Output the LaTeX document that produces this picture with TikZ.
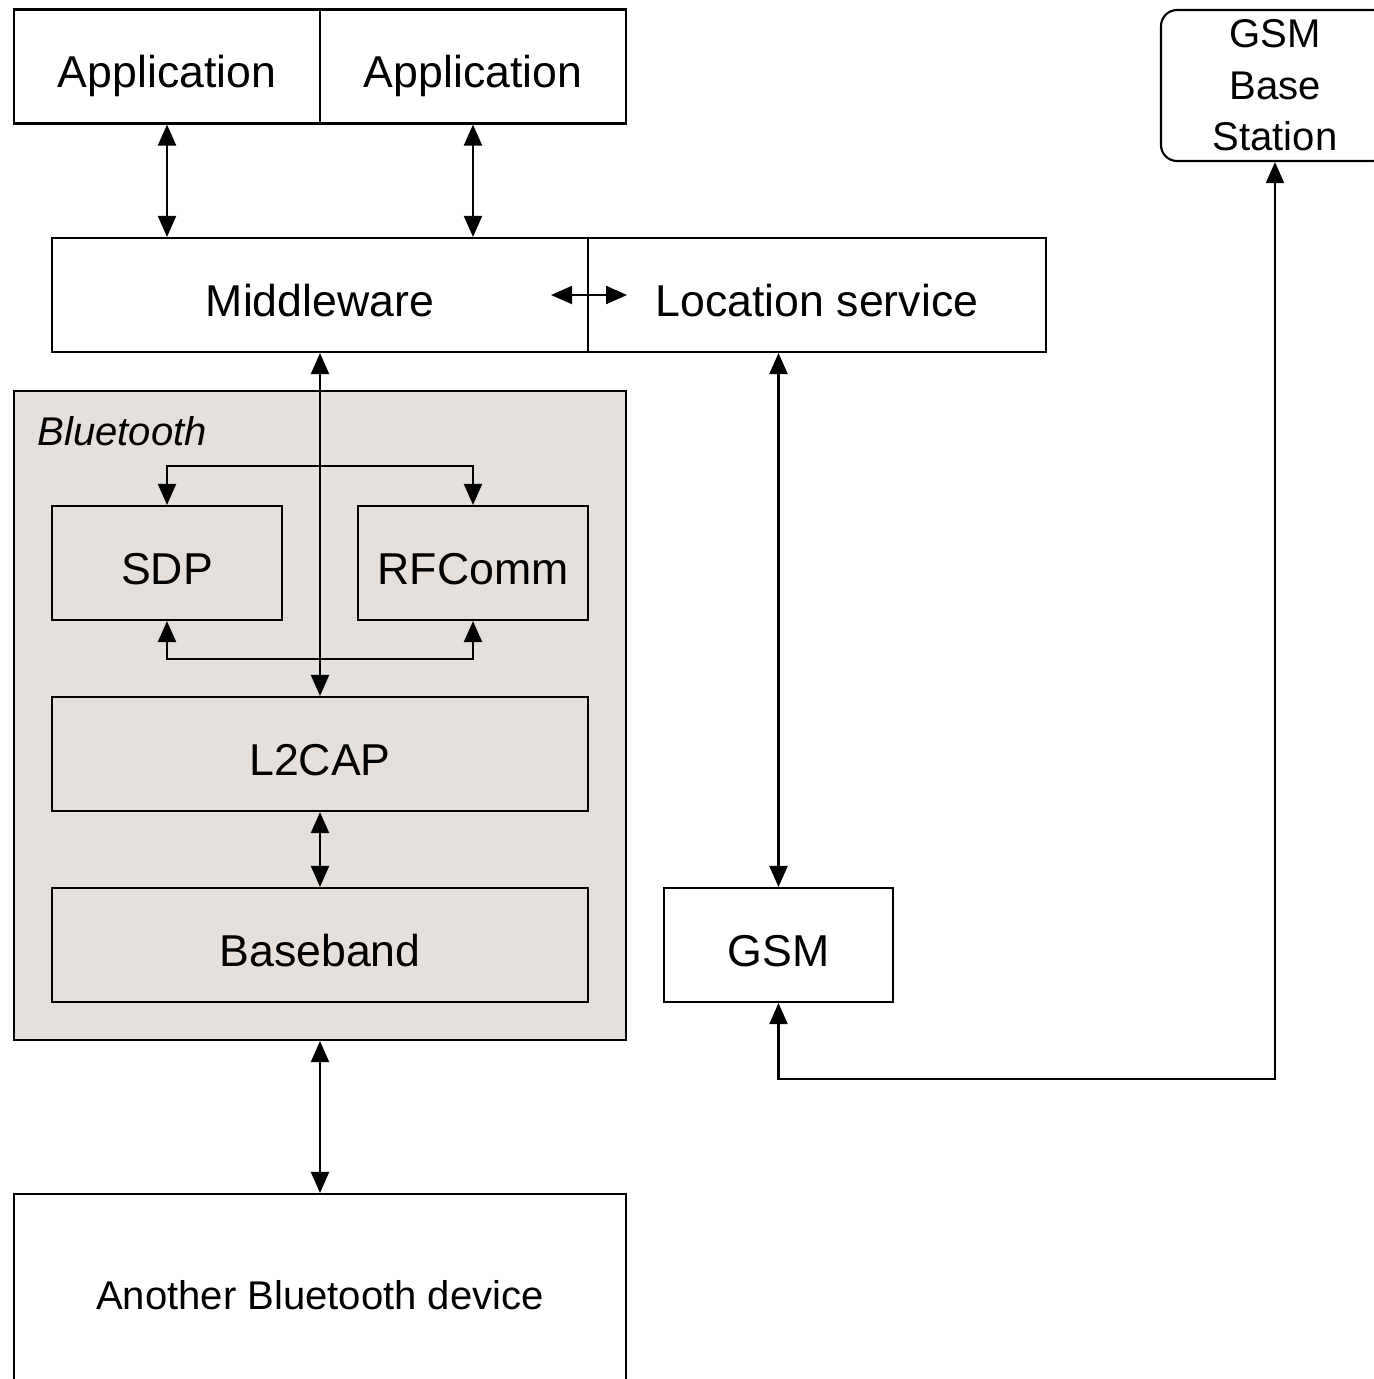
\documentclass[tikz,border=0pt]{standalone}
\usepackage{fontspec}
\setmainfont{Liberation Sans}
\usetikzlibrary{arrows.meta}
\definecolor{btgray}{RGB}{229,224,220}

\begin{document}
\begin{tikzpicture}[
		% Okviri i strelice
		box/.style={draw, line width=0.6pt, minimum height=11.4mm, inner sep=0pt, text height=12pt, text depth=0pt, font=\fontsize{12.7}{15}\selectfont},
		link/.style={line width=0.6pt, {Triangle[length=2.1mm,width=1.8mm]}-{Triangle[length=2.1mm,width=1.8mm]}},
		]
		\useasboundingbox (0,0) rectangle (13.74,-13.79);
		\node[box, fill=btgray, minimum width=61.2mm, minimum height=64.9mm] (bt) at (3.20,-7.155) {};
		\node[anchor=west, font=\fontsize{11.4}{14}\selectfont\itshape] (btlabel) at (0.25,-4.31) {Bluetooth};

		\node[box, minimum width=30.6mm] (app1) at (1.67,-0.665) {Application};
		\node[box, minimum width=30.6mm] (app2) at (4.73,-0.665) {Application};
		\node[draw, line width=0.6pt, rounded corners=1.6mm, minimum width=22.8mm, minimum height=15.1mm, inner sep=0pt, align=center, font=\fontsize{11.4}{14.6}\selectfont] (base) at (12.75,-0.855) {GSM\\Base\\Station};
		\node[box, minimum width=53.6mm] (mw) at (3.20,-2.95) {Middleware};
		\node[box, minimum width=45.8mm] (loc) at (8.17,-2.95) {Location service};
		\node[box, minimum width=23mm] (sdp) at (1.67,-5.63) {SDP};
		\node[box, minimum width=23mm] (rfc) at (4.73,-5.63) {RFComm};
		\node[box, minimum width=53.6mm] (l2) at (3.20,-7.54) {L2CAP};
		\node[box, minimum width=53.6mm] (bb) at (3.20,-9.45) {Baseband};
		\node[box, minimum width=22.9mm] (gsm) at (7.785,-9.45) {GSM};
		\node[box, minimum width=61.2mm, minimum height=20.2mm, text height=8.3pt, font=\fontsize{11.4}{14}\selectfont] (other) at (3.20,-12.95) {Another Bluetooth device};

		\draw[link] (app1.south) -- (app1.south |- mw.north);
		\draw[link] (app2.south) -- (app2.south |- mw.north);
		\draw[link] ([xshift=-3.8mm]mw.east) -- ([xshift=3.8mm]mw.east);
		\draw[link] (mw.south) -- (l2.north);
		\draw[link] (sdp.north) -- ++(0,0.39) -| (rfc.north);
		\draw[link] (sdp.south) -- ++(0,-0.38) -| (rfc.south);
		\draw[link] (l2.south) -- (bb.north);
		\draw[link] (bt.south) -- (other.north);
		\draw[link] (gsm.north |- loc.south) -- (gsm.north);
		\draw[link] (gsm.south) -- ++(0,-0.76) -| (base.south);
	\end{tikzpicture}
\end{document}
